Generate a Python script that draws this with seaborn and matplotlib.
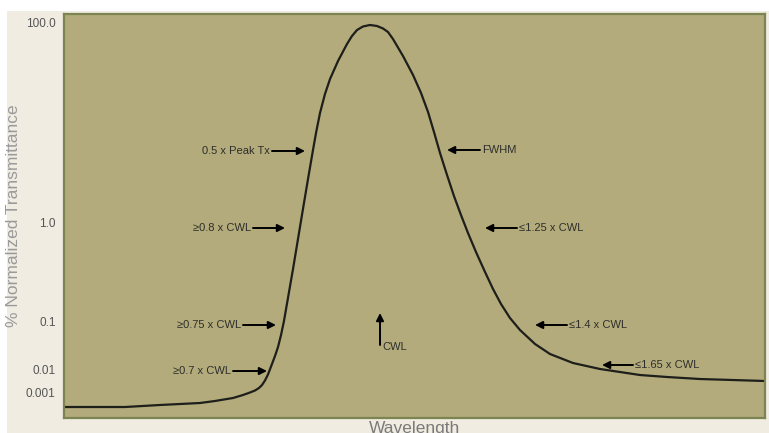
import matplotlib
matplotlib.use("Agg")
import matplotlib.pyplot as plt
import seaborn as sns
import pandas as pd
from matplotlib.patches import Rectangle

# ---- data (relative wavelength units 0-100, relative plot height 0-100) ----
wavelength = [0.0, 8.70, 13.69, 19.40, 21.54, 24.11, 25.53, 26.53, 27.25, 27.82,
              28.25, 28.67, 29.10, 29.67, 30.10, 30.53, 30.96, 31.38, 31.95, 32.67,
              33.38, 34.09, 34.81, 35.52, 35.95, 36.52, 37.23, 37.95, 39.09, 40.37,
              41.08, 41.80, 42.65, 43.65, 44.65, 45.51, 46.22, 46.93, 48.36, 49.79,
              50.93, 51.93, 52.78, 53.64, 54.64, 55.63, 56.63, 57.63, 58.77, 60.06,
              61.20, 62.34, 63.62, 65.05, 67.19, 69.33, 72.61, 76.46, 82.17, 86.02,
              90.73, 100.0]
transmittance = [2.72, 2.72, 3.22, 3.71, 4.21, 4.95, 5.69, 6.31, 6.81, 7.43,
                 8.17, 9.28, 10.77, 13.37, 15.35, 17.57, 20.54, 24.01, 29.70, 36.88,
                 44.31, 51.73, 59.16, 66.34, 70.54, 75.50, 80.20, 83.91, 88.37, 92.57,
                 94.55, 96.04, 96.91, 97.28, 97.03, 96.41, 95.54, 93.81, 89.60, 84.90,
                 80.45, 75.74, 70.79, 65.59, 60.15, 54.95, 50.25, 45.79, 41.09, 36.14,
                 31.93, 28.22, 24.75, 21.78, 18.32, 15.84, 13.61, 12.13, 10.64, 10.15,
                 9.65, 9.16]

ytick_pos = [98.0, 48.5, 23.8, 12.1, 6.4]
ytick_labels = ["100.0", "1.0", "0.1", "0.01", "0.001"]

# annotations: label, arrow tip (x, y), arrow tail x
ann_labels = ["0.5 x Peak Tx", "\u22650.8 x CWL", "\u22650.75 x CWL", "\u22650.7 x CWL",
              "FWHM", "\u22641.25 x CWL", "\u22641.4 x CWL", "\u22641.65 x CWL"]
ann_tip_x = [34.38, 31.53, 30.24, 28.96, 54.64, 60.06, 67.19, 76.75]
ann_tip_y = [66.09, 47.03, 23.02, 11.63, 66.34, 47.03, 23.02, 13.12]
ann_tail_x = [29.67, 26.96, 25.53, 24.11, 59.34, 64.62, 71.76, 81.17]

cwl_x = 45.08
cwl_tip_y = 25.99
cwl_tail_y = 18.07

df = pd.DataFrame({"Wavelength": wavelength, "T": transmittance})

sns.set_theme(style="white")
plt.rcParams["font.family"] = ["Liberation Sans", "DejaVu Sans"]

W, H = 769, 433
fig = plt.figure(figsize=(W / 100, H / 100), dpi=100)
fig.patch.set_facecolor("white")
fig.patches.append(Rectangle((7 / W, 0), 1, (H - 11) / H, transform=fig.transFigure,
                             facecolor="#f0ece2", edgecolor="none", zorder=-10))

ax = fig.add_axes([64 / W, (H - 418) / H, 701 / W, 404 / H])
ax.set_facecolor("#b3ab7c")

sns.lineplot(data=df, x="Wavelength", y="T", ax=ax, color="#1e1e1a", lw=1.6, sort=False)
ax.lines[0].set_solid_joinstyle("round")

ax.set_xlim(0, 100)
ax.set_ylim(0, 100)
ax.set_xticks([])
ax.set_yticks(ytick_pos)
ax.set_yticklabels(ytick_labels)
ax.tick_params(axis="y", length=0, pad=6, labelsize=8.5, labelcolor="#555555")

for s in ax.spines.values():
    s.set_color("#7c8452")
    s.set_linewidth(1.6)

ax.set_xlabel("Wavelength", fontsize=12.5, color="#7a7a7a", labelpad=2)
ax.set_ylabel("% Normalized Transmittance", fontsize=12.5, color="#9a9a9a")
ax.yaxis.set_label_coords(-0.061, 0.5)

arrow_kw = dict(arrowstyle="-|>", color="black", lw=1.4, mutation_scale=11,
                shrinkA=0, shrinkB=0)
txt_kw = dict(fontsize=8, color="#2e2e2a", va="center")

for lab, tx, ty, tl in zip(ann_labels, ann_tip_x, ann_tip_y, ann_tail_x):
    ax.annotate("", xy=(tx, ty), xytext=(tl, ty), arrowprops=arrow_kw)
    if tl < tx:
        ax.text(tl - 0.25, ty, lab, ha="right", **txt_kw)
    else:
        ax.text(tl + 0.25, ty, lab, ha="left", **txt_kw)

ax.annotate("", xy=(cwl_x, cwl_tip_y), xytext=(cwl_x, cwl_tail_y), arrowprops=arrow_kw)
ax.text(cwl_x + 0.3, cwl_tail_y - 0.6, "CWL", ha="left", **txt_kw)

fig.savefig("out.png", dpi=100)
